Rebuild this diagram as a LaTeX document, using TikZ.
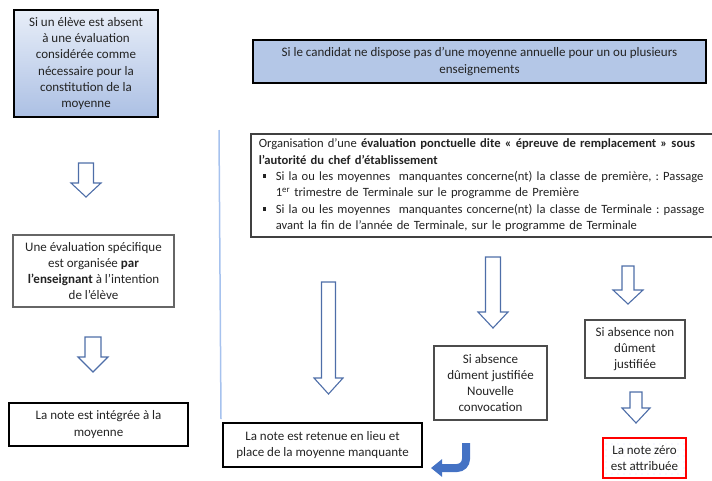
\documentclass[tikz,border=0pt]{standalone}
\usepackage{fontspec}
\setmainfont{Carlito}
\usetikzlibrary{positioning,arrows.meta,patterns.meta}
\frenchspacing

\definecolor{boxblue}{RGB}{180,199,231}
\definecolor{shadetop}{RGB}{232,238,248}
\definecolor{shadebot}{RGB}{172,192,228}
\definecolor{arrowline}{RGB}{78,110,168}
\definecolor{officeblue}{RGB}{68,114,196}
\definecolor{sepline}{RGB}{166,194,238}
\definecolor{txt}{RGB}{35,35,35}

% hollow block arrow pointing down: x, top, neck, tip, half shaft, half head
\newcommand{\hollowarrow}[6]{%
  \draw[blockarrow] (#1-#5,#2) -- (#1+#5,#2) -- (#1+#5,#3) -- (#1+#6,#3)
    -- (#1,#4) -- (#1-#6,#3) -- (#1-#5,#3) -- cycle;}
\newcommand{\bul}{\hspace*{4pt}\makebox[13pt][l]{\rule[2.5pt]{3.5pt}{3.5pt}}}

\begin{document}
\begin{tikzpicture}[x=1pt, y=-1pt,
  every node/.style={font=\fontsize{13}{16.3}\selectfont, text=txt, align=center, inner sep=0pt},
  thinbox/.style={draw=black!60, line width=1.2pt},
  midbox/.style={draw=black!70, line width=1.5pt},
  thickbox/.style={draw=black, line width=2.5pt},
  blockarrow/.style={draw=arrowline, line width=1.1pt, fill=white, line join=miter}]
\useasboundingbox (0,0) rectangle (712,480);

% left column
\node[thickbox, shading=axis, top color=shadetop, bottom color=shadebot,
  minimum width=144pt, minimum height=107pt] (absent) at (86,63.5)
  {Si un élève est absent\\à une évaluation\\considérée comme\\nécessaire pour la\\constitution de la\\moyenne};
\node[thinbox, minimum width=161pt, minimum height=72pt] (specifique) at (93.5,271)
  {Une évaluation spécifique\\est organisée \textbf{par}\\\textbf{l’enseignant} à l’intention\\de l’élève};
\node[thickbox, minimum width=179pt, minimum height=43pt] (integree) at (98.5,424.5)
  {La note est intégrée à la\\moyenne};

\hollowarrow{86}{163}{183}{197}{7.5}{15}
\hollowarrow{93}{337}{357}{372}{8}{15}

% separator
\draw[sepline, line width=1.5pt] (219,130) -- (221,419);

% right part
\node[thickbox, fill=boxblue, minimum width=453pt, minimum height=43pt] (candidat) at (479.5,61.5)
  {Si le candidat ne dispose pas d’une moyenne annuelle pour un ou plusieurs\\enseignements};
\node[draw=black!75, line width=1.5pt, anchor=north west, align=left, text width=462pt,
  font=\fontsize{12.6}{16.3}\selectfont,
  inner xsep=8pt, inner ysep=4pt, minimum height=103pt] (remplacement) at (250,133)
  {Organisation d’une \textbf{évaluation ponctuelle dite « épreuve de remplacement » sous}\\
   \textbf{l’autorité du chef d’établissement}\\
   \bul Si la ou les moyennes~ manquantes concerne(nt) la classe de première, : Passage\\
   \hspace*{17pt}1\textsuperscript{er} trimestre de Terminale sur le programme de Première\\
   \bul Si la ou les moyennes~ manquantes concerne(nt) la classe de Terminale : passage\\
   \hspace*{17pt}avant la fin de l’année de Terminale, sur le programme de Terminale};

\hollowarrow{328.5}{282}{378}{394}{7}{14.5}
\hollowarrow{493}{257}{312}{328}{7.5}{15}
\hollowarrow{628}{266}{290}{304}{6}{15}
\hollowarrow{636}{392}{408}{423}{6}{14}

\node[midbox, minimum width=113pt, minimum height=74pt] (justifiee) at (490.5,383)
  {Si absence\\dûment justifiée\\Nouvelle\\convocation};
\node[midbox, minimum width=100pt, minimum height=58pt] (nonjustifiee) at (635,349)
  {Si absence non\\dûment\\justifiée};
\node[thickbox, minimum width=199pt, minimum height=44pt] (retenue) at (322.5,445)
  {La note est retenue en lieu et\\place de la moyenne manquante};
\node[draw=red, line width=2.5pt, preaction={fill=white},
  pattern={Dots[distance=6pt, radius=0.4pt]}, pattern color=blue!35,
  minimum width=83pt, minimum height=40pt] (zero) at (644.5,458)
  {La note zéro\\est attribuée};

% back to the retained mark
\coordinate (retour) at (466,443);
\coordinate (retourfin) at (431,468);
\draw[officeblue, line width=8pt, rounded corners=9pt, -{Triangle[length=11pt, width=17pt]}]
  (retour) |- (retourfin);
\end{tikzpicture}
\end{document}
